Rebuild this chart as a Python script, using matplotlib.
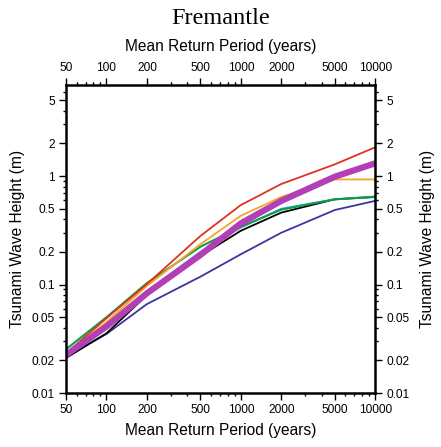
import matplotlib.pyplot as plt
from matplotlib.ticker import FixedLocator, FixedFormatter, LogLocator, NullFormatter

# return periods (years)
periods = [50, 100, 200, 500, 1000, 2000, 5000, 10000]

# tsunami wave heights (m)
h_blue = [0.0216, 0.035, 0.066, 0.118, 0.19, 0.30, 0.486, 0.59]
h_black = [0.021, 0.0355, 0.08, 0.183, 0.313, 0.46, 0.61, 0.64]
h_cyan = [0.022, 0.041, 0.086, 0.20, 0.335, 0.50, 0.61, 0.645]
h_green = [0.0253, 0.0499, 0.103, 0.223, 0.34, 0.49, 0.61, 0.645]
h_orange = [0.023, 0.045, 0.097, 0.235, 0.43, 0.64, 0.93, 0.93]
h_red = [0.0232, 0.0488, 0.101, 0.28, 0.54, 0.844, 1.28, 1.84]
h_magenta = [0.0224, 0.041, 0.083, 0.187, 0.366, 0.59, 0.985, 1.31]

xticks = [50, 100, 200, 500, 1000, 2000, 5000, 10000]
xticklabels = ['50', '100', '200', '500', '1000', '2000', '5000', '10000']
yticks = [0.01, 0.02, 0.05, 0.1, 0.2, 0.5, 1, 2, 5]
yticklabels = ['0.01', '0.02', '0.05', '0.1', '0.2', '0.5', '1', '2', '5']

plt.rcParams['font.family'] = ['Liberation Sans', 'DejaVu Sans']

fig = plt.figure(figsize=(4.41, 4.47), dpi=100)
ax = fig.add_axes([0.1497, 0.1208, 0.7010, 0.6890])

ax.plot(periods, h_blue, color='#3a35a0', lw=1.3)
ax.plot(periods, h_black, color='black', lw=1.3)
ax.plot(periods, h_cyan, color='#30b4d8', lw=1.3)
ax.plot(periods, h_green, color='#0e9a48', lw=1.5)
ax.plot(periods, h_orange, color='#f5a623', lw=1.3)
ax.plot(periods, h_red, color='#e0321e', lw=1.3)
ax.plot(periods, h_magenta, color='#b23fb5', lw=4.5, solid_capstyle='butt')

ax.set_xscale('log')
ax.set_yscale('log')
ax.set_xlim(50, 10000)
ax.set_ylim(0.01, 6.9)

for axis, ticks, labels in [(ax.xaxis, xticks, xticklabels), (ax.yaxis, yticks, yticklabels)]:
    axis.set_major_locator(FixedLocator(ticks))
    axis.set_major_formatter(FixedFormatter(labels))
    axis.set_minor_locator(LogLocator(base=10, subs=range(1, 10)))
    axis.set_minor_formatter(NullFormatter())

ax.tick_params(which='both', direction='out', top=True, right=True,
               labeltop=True, labelright=True, labelsize=8.6, width=1.0, pad=3)
ax.tick_params(which='major', length=5)
ax.tick_params(which='minor', length=2.5)
for s in ax.spines.values():
    s.set_linewidth(1.8)

ax.set_xlabel('Mean Return Period (years)', fontsize=11.2, labelpad=5)
ax.set_ylabel('Tsunami Wave Height (m)', fontsize=11.2, labelpad=5)

sec = ax.secondary_xaxis('top')
sec.set_xticks([])
sec.spines['top'].set_visible(False)
sec.set_xlabel('Mean Return Period (years)', fontsize=11.2, labelpad=19)

secy = ax.secondary_yaxis('right')
secy.set_yticks([])
secy.spines['right'].set_visible(False)
secy.set_ylabel('Tsunami Wave Height (m)', fontsize=11.2, labelpad=27)

fig.text(0.5, 0.958, 'Fremantle', ha='center', va='center',
         fontsize=17.5, family='Liberation Serif')

fig.savefig('out.png', dpi=100)
